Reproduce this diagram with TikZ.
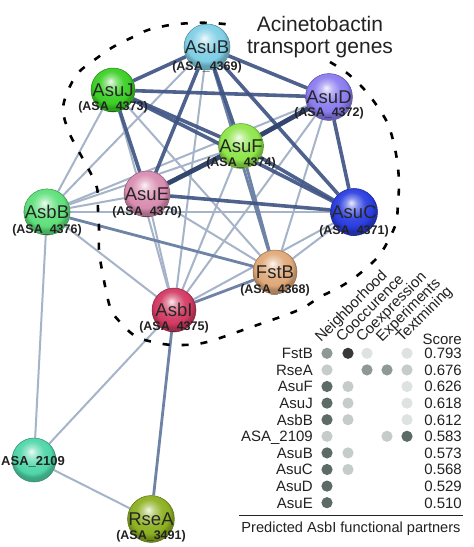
\documentclass[tikz,border=0pt]{standalone}
\usepackage{fontspec}
\setmainfont{Liberation Sans}
\pgfdeclarelayer{bg}
\pgfdeclarelayer{edges}
\pgfsetlayers{bg,edges,main}
\colorlet{gball}{white}
\pgfdeclareradialshading[gball]{gsphere}{\pgfqpoint{-3bp}{10bp}}{color(0bp)=(gball!10!white); color(6bp)=(gball!55!white); color(14bp)=(gball!92!white); color(21bp)=(gball); color(25bp)=(gball!78!black); color(50bp)=(gball!60!black)}
\definecolor{cAsuB}{HTML}{7FCFE6}
\definecolor{cAsuJ}{HTML}{3BCF25}
\definecolor{cAsuD}{HTML}{8A7CF0}
\definecolor{cAsuF}{HTML}{8EE64A}
\definecolor{cAsuE}{HTML}{D98CB0}
\definecolor{cAsbB}{HTML}{5EE07A}
\definecolor{cAsuC}{HTML}{2A3DE0}
\definecolor{cFstB}{HTML}{E0A878}
\definecolor{cAsbI}{HTML}{D23A62}
\definecolor{cX}{HTML}{4FD6A8}
\definecolor{cRseA}{HTML}{8CB020}
\definecolor{eStrong}{HTML}{3C5282}
\definecolor{eMed}{HTML}{6F83A6}
\definecolor{eWeak}{HTML}{A6B4C9}
\definecolor{dDark}{HTML}{5C6B66}
\definecolor{dBlack}{HTML}{383838}
\definecolor{dMid}{HTML}{8E9994}
\definecolor{dLight}{HTML}{C5CCC9}
\definecolor{dVLight}{HTML}{DEE2E0}
\definecolor{txt}{HTML}{222222}
\begin{document}
\begin{tikzpicture}[x=1pt,y=-1pt,
  gene/.style={circle, minimum size=44pt, inner sep=0pt,
    /utils/exec={\colorlet{gball}{#1}}, shading=gsphere,
    draw=#1!65!black, line width=0.5pt,
    font=\fontsize{18.5}{19}\selectfont, text=black!85},
  lab/.style={inner sep=0pt, font=\fontsize{12.5}{13}\bfseries\selectfont, text=txt},
  weak/.style={draw=eWeak, line width=2pt},
  med/.style={draw=eMed, line width=2.8pt},
  strong/.style={draw=eStrong, line width=3.6pt, opacity=0.9},
  vstrong/.style={draw=eStrong!85!black, line width=4.8pt},
  hdr/.style={rotate=45, anchor=base west, inner sep=0pt, font=\fontsize{15}{15}\selectfont, text=txt},
  rowlab/.style={anchor=base east, inner sep=0pt, font=\fontsize{15}{15}\selectfont, text=txt},
  score/.style={anchor=base east, inner sep=0pt, font=\fontsize{15}{15}\selectfont, text=txt},
  ttl/.style={anchor=base, inner sep=0pt, font=\fontsize{21}{22}\selectfont, text=txt},
  boundary/.style={draw=black, line width=2.6pt, dash pattern=on 7pt off 12pt}
]
\useasboundingbox (0,0) rectangle (474,547);
\begin{pgfonlayer}{bg}
\fill[white] (0,0) rectangle (474,547);
\end{pgfonlayer}

% nodes
\node[gene=cAsuB] (B) at (207,47) {AsuB};
\node[gene=cAsuJ] (J) at (113,90) {AsuJ};
\node[gene=cAsuD] (D) at (329,97) {AsuD};
\node[gene=cAsuF] (F) at (241,146) {AsuF};
\node[gene=cAsuE] (E) at (147,194) {AsuE};
\node[gene=cAsbB] (Bb) at (47,212) {AsbB};
\node[gene=cAsuC] (C) at (354,212) {AsuC};
\node[gene=cFstB] (Fs) at (275,272) {FstB};
\node[gene=cAsbI] (I) at (174,310) {AsbI};
\node[gene=cX] (X) at (34,460) {};
\node[lab, font=\fontsize{13}{13}\bfseries\selectfont] (tX) at (33,462) {ASA\_2109};
\node[gene=cRseA] (R) at (151,519) {RseA};

% gene labels
\node[lab] (lB) at (207,67) {(ASA\_4369)};
\node[lab] (lJ) at (113,107) {(ASA\_4373)};
\node[lab] (lD) at (329,113) {(ASA\_4372)};
\node[lab] (lF) at (241,163) {(ASA\_4374)};
\node[lab] (lE) at (147,212) {(ASA\_4370)};
\node[lab] (lBb) at (47,230) {(ASA\_4376)};
\node[lab] (lC) at (354,231) {(ASA\_4371)};
\node[lab] (lFs) at (275,290) {(ASA\_4368)};
\node[lab] (lI) at (174,327) {(ASA\_4375)};
\node[lab] (lR) at (151,536) {(ASA\_3491)};

% edges
\begin{pgfonlayer}{edges}
\foreach \a/\b in {B/Bb, B/I, J/Bb, J/I, J/Fs, D/E, D/Bb, D/I, D/Fs, F/Bb, F/I, E/Bb, E/I, E/Fs, C/Bb, C/I, C/Fs, Bb/I, I/X, X/R, X/Bb}
  \draw[weak] (\a) -- (\b);
\foreach \a/\b in {Bb/Fs, Fs/I, I/R, B/Fs, F/Fs}
  \draw[med] (\a) -- (\b);
\foreach \a/\b in {B/J, B/D, B/F, B/E, B/C, J/D, J/F, J/E, J/C, D/C, F/C, E/C}
  \draw[strong] (\a) -- (\b);
\foreach \a/\b in {D/F, F/E}
  \draw[vstrong] (\a) -- (\b);
\end{pgfonlayer}

% dashed group boundary
\draw[boundary] plot[smooth, tension=0.55] coordinates {(330,62) (347,73) (363,88) (375,103) (387,122) (393,140) (397,160) (399,182) (398,203) (396,223) (387,243) (377,258) (358,275) (340,287) (320,297) (303,308) (283,316) (263,323) (243,330) (223,337) (203,343) (183,345) (163,344) (137,337) (120,322) (110,307) (102,270) (99,250) (99,228) (98,210) (97,188) (88,168) (78,150) (68,130) (63,110) (67,93) (78,73) (97,58) (113,47) (133,37) (148,30) (170,25) (192,23) (213,23) (233,25)};

% title
\node[ttl] (t1) at (320,31) {Acinetobactin};
\node[ttl] (t2) at (320,53) {transport genes};

% table header
\node[hdr] (h1) at (321,343) {Neighborhood};
\node[hdr] (h2) at (342,343) {Cooccurence};
\node[hdr] (h3) at (362,343) {Coexpression};
\node[hdr] (h4) at (382,343) {Experiments};
\node[hdr] (h5) at (402,343) {Textmining};
\node[score] (hs) at (462,344.5) {Score};

% rows
\foreach \n/\s [count=\k from 0] in {FstB/0.793, RseA/0.676, AsuF/0.626, AsuJ/0.618, AsbB/0.612, ASA\_2109/0.583, AsuB/0.573, AsuC/0.568, AsuD/0.529, AsuE/0.510}{
  \node[rowlab] (r\k) at (313,353.3+16.6*\k+5.4) {\n};
  \node[score] (s\k) at (462,353.3+16.6*\k+5.4) {\s};
}
% dots: columns 327,348,367,387,407
\def\rowy#1{353.3+16.6*#1}
\def\dr{5.6pt}
\fill[dMid] (327,{\rowy{0}}) circle (\dr);
\fill[dBlack] (348,{\rowy{0}}) circle (\dr);
\fill[dVLight] (367,{\rowy{0}}) circle (\dr);
\fill[dVLight] (407,{\rowy{0}}) circle (\dr);
\fill[dLight] (327,{\rowy{1}}) circle (\dr);
\fill[dMid] (367,{\rowy{1}}) circle (\dr);
\fill[dMid] (387,{\rowy{1}}) circle (\dr);
\fill[dLight] (407,{\rowy{1}}) circle (\dr);
\foreach \k in {2,3,4}{
  \fill[dDark] (327,{\rowy{\k}}) circle (\dr);
  \fill[dLight] (348,{\rowy{\k}}) circle (\dr);
  \fill[dVLight] (407,{\rowy{\k}}) circle (\dr);
}
\fill[dLight] (327,{\rowy{5}}) circle (\dr);
\fill[dLight] (387,{\rowy{5}}) circle (\dr);
\fill[dDark] (407,{\rowy{5}}) circle (\dr);
\foreach \k in {6,7}{
  \fill[dDark] (327,{\rowy{\k}}) circle (\dr);
  \fill[dLight] (348,{\rowy{\k}}) circle (\dr);
}
\foreach \k in {8,9}{
  \fill[dDark] (327,{\rowy{\k}}) circle (\dr);
}
\coordinate (la) at (239,515);
\coordinate (lb) at (463,515);
\draw[line width=1pt, draw=txt] (la) -- (lb);
\node[anchor=base, inner sep=0pt, font=\fontsize{14.6}{15}\selectfont, text=txt] (cap) at (351,532) {Predicted AsbI functional partners};
\end{tikzpicture}
\end{document}
